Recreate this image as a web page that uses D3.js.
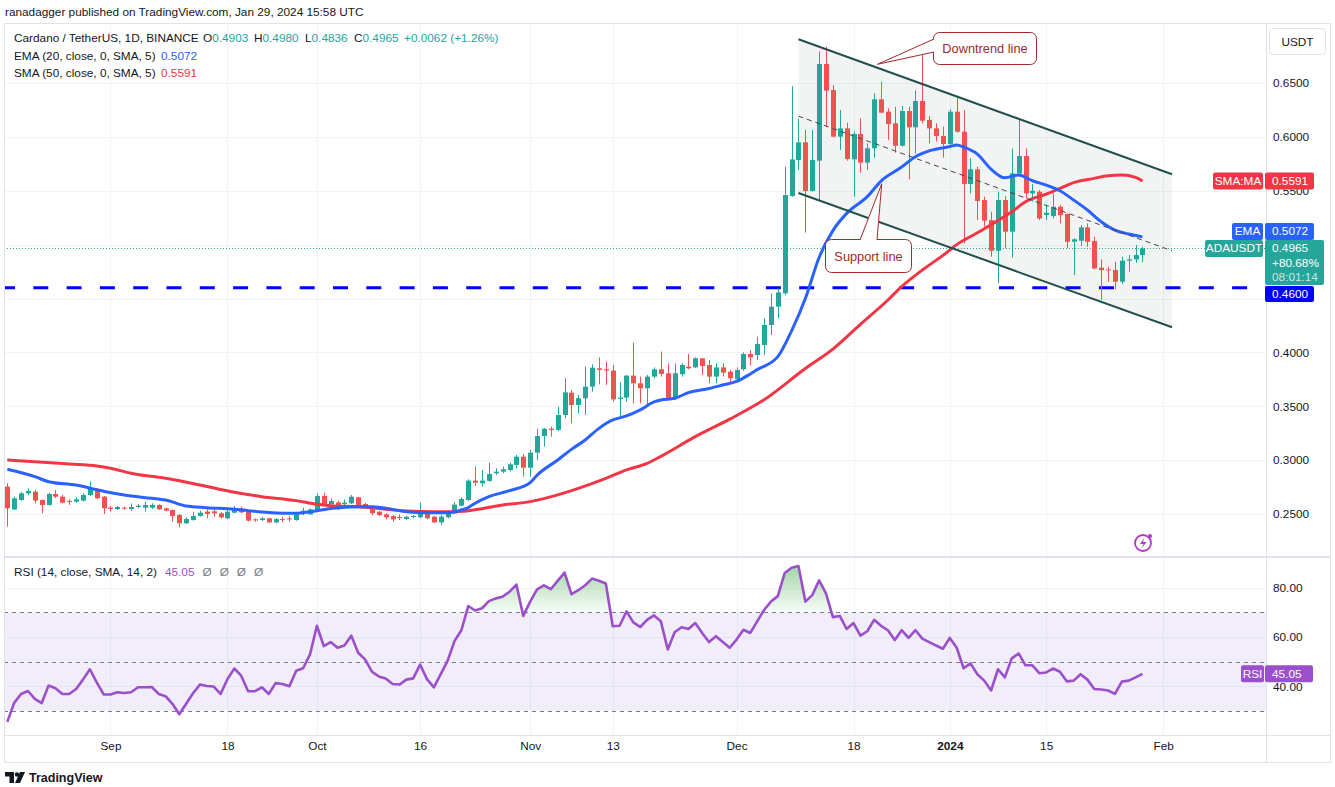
<!DOCTYPE html>
<html>
<head>
<meta charset="utf-8">
<script src="https://cdn.jsdelivr.net/npm/d3@7"></script>
<style>
  body { margin: 0; background: #fff; }
  svg { display: block; font-family: "Liberation Sans", Arial, sans-serif; }
</style>
</head>
<body>
<svg id="chart" width="1335" height="787"></svg>
<script>
// daily candles, ADA/USDT, first candle is 17 Aug 2023
const firstDay = new Date(Date.UTC(2023, 7, 17));

const open = [
  0.2754,0.2543,0.2630,0.2692,0.2707,0.2630,0.2584,0.2686,0.2661,0.2621,
  0.2615,0.2624,0.2676,0.2729,0.2661,0.2559,0.2546,0.2559,0.2546,0.2565,
  0.2559,0.2559,0.2584,0.2553,0.2537,0.2491,0.2414,0.2444,0.2482,0.2522,
  0.2525,0.2506,0.2460,0.2512,0.2552,0.2521,0.2450,0.2444,0.2460,0.2422,
  0.2453,0.2460,0.2444,0.2512,0.2497,0.2537,0.2667,0.2590,0.2608,0.2593,
  0.2599,0.2655,0.2593,0.2568,0.2521,0.2497,0.2481,0.2472,0.2453,0.2472,
  0.2469,0.2521,0.2475,0.2422,0.2469,0.2506,0.2577,0.2630,0.2810,0.2785,
  0.2807,0.2878,0.2893,0.2908,0.2955,0.3032,0.2930,0.3069,0.3224,0.3292,
  0.3280,0.3419,0.3626,0.3512,0.3574,0.3682,0.3852,0.3843,0.3831,0.3568,
  0.3580,0.3784,0.3713,0.3667,0.3775,0.3843,0.3806,0.3574,0.3797,0.3868,
  0.3861,0.3945,0.3883,0.3775,0.3861,0.3821,0.3750,0.3843,0.3985,0.3975,
  0.4068,0.4254,0.4424,0.4548,0.5451,0.5785,0.5949,0.5498,0.5779,0.6676,
  0.6435,0.6002,0.6079,0.5792,0.6027,0.5761,0.5894,0.6348,0.6234,0.6126,
  0.5918,0.6240,0.6089,0.6333,0.6157,0.6079,0.6008,0.5934,0.6234,0.6048,
  0.5563,0.5699,0.5414,0.5228,0.4943,0.5414,0.5120,0.5661,0.5822,0.5476,
  0.5491,0.5275,0.5265,0.5352,0.5284,0.5027,0.5036,0.5160,0.5033,0.4786,
  0.4770,0.4764,0.4656,0.4851,0.4863,0.4903
];
const high = [
  0.2785,0.2661,0.2707,0.2738,0.2723,0.2636,0.2698,0.2723,0.2676,0.2636,
  0.2655,0.2692,0.2800,0.2738,0.2667,0.2574,0.2574,0.2568,0.2599,0.2593,
  0.2615,0.2599,0.2590,0.2559,0.2543,0.2500,0.2469,0.2522,0.2531,0.2543,
  0.2543,0.2518,0.2537,0.2574,0.2568,0.2537,0.2460,0.2469,0.2466,0.2463,
  0.2475,0.2481,0.2506,0.2559,0.2552,0.2692,0.2698,0.2645,0.2624,0.2636,
  0.2676,0.2661,0.2605,0.2577,0.2528,0.2506,0.2490,0.2497,0.2481,0.2490,
  0.2605,0.2531,0.2481,0.2490,0.2537,0.2610,0.2655,0.2822,0.2940,0.2908,
  0.2977,0.2924,0.2939,0.2977,0.3048,0.3057,0.3094,0.3292,0.3298,0.3311,
  0.3496,0.3759,0.3651,0.3605,0.3868,0.3889,0.3954,0.3914,0.3883,0.3722,
  0.3790,0.4090,0.3775,0.3790,0.3861,0.4007,0.3899,0.3899,0.3899,0.3985,
  0.3954,0.3948,0.3929,0.3899,0.3899,0.3837,0.3861,0.4000,0.4022,0.4145,
  0.4316,0.4548,0.4594,0.5723,0.6470,0.6170,0.6064,0.6064,0.6791,0.6837,
  0.6481,0.6249,0.6132,0.6048,0.6172,0.5940,0.6404,0.6512,0.6265,0.6280,
  0.6287,0.6280,0.6429,0.6760,0.6194,0.6126,0.6095,0.6256,0.6364,0.6249,
  0.5801,0.5723,0.5445,0.5305,0.5491,0.5451,0.5893,0.6156,0.5893,0.5562,
  0.5507,0.5367,0.5476,0.5367,0.5290,0.5058,0.5182,0.5197,0.5073,0.4863,
  0.4795,0.4841,0.4888,0.4903,0.4996,0.4980
];
const low = [
  0.2383,0.2537,0.2624,0.2676,0.2599,0.2506,0.2578,0.2646,0.2599,0.2584,
  0.2605,0.2615,0.2667,0.2636,0.2500,0.2522,0.2537,0.2537,0.2528,0.2553,
  0.2522,0.2546,0.2537,0.2525,0.2429,0.2377,0.2407,0.2438,0.2475,0.2460,
  0.2475,0.2457,0.2451,0.2506,0.2506,0.2432,0.2429,0.2435,0.2419,0.2413,
  0.2426,0.2429,0.2438,0.2490,0.2490,0.2531,0.2574,0.2568,0.2537,0.2574,
  0.2593,0.2577,0.2562,0.2490,0.2481,0.2450,0.2429,0.2444,0.2447,0.2460,
  0.2460,0.2450,0.2416,0.2398,0.2460,0.2500,0.2570,0.2620,0.2760,0.2754,
  0.2800,0.2862,0.2878,0.2893,0.2924,0.2847,0.2847,0.3001,0.3125,0.3218,
  0.3271,0.3388,0.3342,0.3435,0.3419,0.3636,0.3704,0.3698,0.3543,0.3404,
  0.3543,0.3527,0.3527,0.3521,0.3759,0.3775,0.3558,0.3558,0.3775,0.3843,
  0.3855,0.3790,0.3713,0.3713,0.3775,0.3713,0.3744,0.3830,0.3882,0.3929,
  0.3975,0.4161,0.4316,0.4532,0.5445,0.5692,0.5111,0.5491,0.5414,0.6095,
  0.5996,0.5878,0.5779,0.5445,0.5668,0.5693,0.5807,0.6219,0.5971,0.5853,
  0.5909,0.5606,0.5847,0.6126,0.5940,0.5956,0.5807,0.5925,0.6039,0.5012,
  0.5476,0.5228,0.5167,0.4888,0.4640,0.4965,0.4881,0.5630,0.5429,0.5398,
  0.5228,0.5228,0.5243,0.5197,0.4965,0.4717,0.4987,0.4980,0.4770,0.4485,
  0.4656,0.4585,0.4634,0.4748,0.4832,0.4836
];
const close = [
  0.2553,0.2646,0.2692,0.2714,0.2624,0.2584,0.2686,0.2661,0.2605,0.2612,
  0.2636,0.2676,0.2738,0.2646,0.2553,0.2546,0.2565,0.2550,0.2565,0.2577,
  0.2584,0.2584,0.2543,0.2531,0.2482,0.2414,0.2454,0.2482,0.2512,0.2500,
  0.2506,0.2469,0.2522,0.2553,0.2515,0.2438,0.2441,0.2460,0.2422,0.2453,
  0.2444,0.2450,0.2497,0.2531,0.2543,0.2667,0.2583,0.2621,0.2552,0.2605,
  0.2661,0.2583,0.2568,0.2506,0.2490,0.2469,0.2450,0.2463,0.2475,0.2481,
  0.2521,0.2460,0.2422,0.2475,0.2521,0.2587,0.2639,0.2810,0.2791,0.2810,
  0.2871,0.2893,0.2915,0.2961,0.3032,0.2930,0.3069,0.3224,0.3292,0.3280,
  0.3419,0.3629,0.3512,0.3574,0.3682,0.3858,0.3837,0.3831,0.3564,0.3580,
  0.3784,0.3713,0.3667,0.3775,0.3843,0.3800,0.3558,0.3806,0.3883,0.3852,
  0.3945,0.3874,0.3775,0.3861,0.3812,0.3760,0.3837,0.3985,0.3954,0.4077,
  0.4254,0.4424,0.4557,0.5460,0.5791,0.5949,0.5498,0.5785,0.6676,0.6429,
  0.6002,0.6079,0.5795,0.6027,0.5761,0.5894,0.6348,0.6225,0.6120,0.5918,
  0.6240,0.6089,0.6333,0.6150,0.6079,0.6008,0.5934,0.6234,0.6048,0.5563,
  0.5699,0.5405,0.5222,0.4943,0.5414,0.5120,0.5661,0.5822,0.5476,0.5500,
  0.5243,0.5296,0.5352,0.5274,0.5027,0.5049,0.5160,0.5027,0.4779,0.4764,
  0.4764,0.4656,0.4851,0.4863,0.4903,0.4965
];

// RSI(14) per candle
const rsi = [
  25.6,33.3,36.9,38.1,34.9,33.2,40.3,39.2,36.9,36.9,
  38.9,42.7,46.9,41.6,36.7,36.7,37.6,37.3,37.6,39.6,
  39.6,39.7,36.9,36.0,32.9,28.7,32.9,37.2,40.7,40.1,
  39.9,36.9,42.9,47.2,44.3,38.0,38.0,39.6,36.9,41.3,
  40.9,40.0,46.3,47.3,52.9,64.5,56.3,57.9,55.6,56.5,
  60.5,53.6,50.9,45.9,44.0,43.2,40.9,40.7,42.7,43.2,
  48.8,42.9,39.6,44.9,50.3,58.3,62.7,72.5,70.7,71.6,
  74.5,75.6,76.3,78.3,81.2,68.5,74.3,79.2,80.9,79.3,
  82.7,86.0,77.3,78.9,80.9,83.6,82.7,81.6,64.3,64.5,
  70.3,65.9,64.0,66.9,68.7,66.3,54.9,61.9,63.9,63.2,
  65.6,61.6,57.9,60.3,57.9,55.6,58.9,62.9,61.6,66.3,
  70.9,74.3,76.5,85.9,88.0,88.7,74.3,76.9,82.9,77.6,
  68.0,68.5,63.2,65.6,60.5,62.3,66.9,64.5,62.7,58.7,
  62.7,59.6,62.7,59.3,57.9,56.5,55.2,59.6,55.6,47.3,
  49.3,44.9,42.3,38.3,46.9,43.6,51.3,53.3,48.5,48.5,
  45.3,45.6,47.2,45.9,42.0,42.3,44.9,42.7,38.9,38.7,
  38.3,36.9,41.9,42.3,43.6,45.05
];

// moving averages: [candle index, value]
const ema20 = [
  [0,0.2915],[4,0.2847],[6,0.2800],[10,0.2769],[13,0.2726],[17,0.2676],[21,0.2646],
  [23,0.2630],[26,0.2574],[29,0.2559],[33,0.2543],[35,0.2531],[38,0.2515],[42,0.2506],
  [44,0.2521],[47,0.2552],[51,0.2568],[53,0.2568],[56,0.2543],[58,0.2521],[61,0.2512],
  [64,0.2512],[66,0.2537],[67,0.2560],[68,0.2600],[70,0.2661],[73,0.2717],[76,0.2791],
  [77,0.2860],[80,0.3001],[82,0.3100],[84,0.3187],[86,0.3295],[88,0.3373],[90,0.3410],
  [92,0.3466],[94,0.3540],[95,0.3558],[97,0.3574],[99,0.3626],[102,0.3665],[104,0.3697],
  [106,0.3730],[108,0.3800],[109,0.3840],[112,0.3960],[114,0.4200],[116,0.4500],
  [118,0.4880],[120,0.5130],[122,0.5290],[125,0.5445],[127,0.5590],[130,0.5720],
  [132,0.5816],[134,0.5870],[137,0.5910],[138,0.5925],[139,0.5905],[141,0.5840],
  [143,0.5700],[145,0.5620],[147,0.5646],[149,0.5593],[151,0.5553],[153,0.5500],
  [155,0.5414],[157,0.5321],[159,0.5213],[161,0.5135],[163,0.5098],[165,0.5072]
];
const sma50 = [
  [0,0.3001],[4,0.2986],[9,0.2964],[13,0.2946],[15,0.2925],[18,0.2878],[23,0.2831],
  [28,0.2769],[33,0.2701],[37,0.2661],[42,0.2624],[45,0.2590],[47,0.2577],[51,0.2568],
  [54,0.2552],[58,0.2528],[62,0.2521],[65,0.2521],[67,0.2530],[72,0.2584],[76,0.2615],
  [80,0.2677],[83,0.2738],[87,0.2831],[90,0.2909],[93,0.2970],[95,0.3035],[100,0.3218],
  [105,0.3380],[110,0.3560],[116,0.3850],[120,0.4030],[124,0.4260],[128,0.4486],
  [130,0.4610],[133,0.4764],[136,0.4900],[138,0.5000],[141,0.5110],[143,0.5185],
  [146,0.5305],[148,0.5398],[151,0.5469],[153,0.5522],[155,0.5575],[158,0.5615],
  [160,0.5640],[162,0.5646],[164,0.5624],[165,0.5591]
];

// drawn objects: [candle index, price]
const channelTop = [[115, 0.6906], [169.3, 0.5653]];
const channelBottom = [[115, 0.5479], [169.3, 0.4233]];
const supportLevel = 0.46;
const downtrendTip = [126.5, 0.6674];
const supportTip = [127.1, 0.5564];

const tickDates = ["2023-09-01","2023-09-18","2023-10-01","2023-10-16","2023-11-01","2023-11-13",
                   "2023-12-01","2023-12-18","2024-01-01","2024-01-15","2024-02-01"];
const tickLabels = ["Sep","18","Oct","16","Nov","13","Dec","18","2024","15","Feb"];
const priceTicks = [0.25,0.30,0.35,0.40,0.45,0.50,0.55,0.60,0.65];
const priceLabelTicks = [0.25,0.30,0.35,0.40,0.55,0.60,0.65]; // 0.45 / 0.50 sit under the tags
const rsiTicks = [40,60,80];
const rsiLevels = [70,50,30];

const UP = "#26a69a", DOWN = "#ef5350", EMA_C = "#2962ff", SMA_C = "#f23645", RSI_C = "#9c4fca";
const TXT = "#131722", GRID = "#f0f3fa", BORDER = "#e0e3eb";
const FS = 11.8;

const svg = d3.select("#chart");
const W = 1335, H = 787;
const paneL = 4, axisX = 1266;
const priceTop = 24, priceBot = 556, rsiTop = 558, rsiBot = 735;

svg.append("rect").attr("width", W).attr("height", H).attr("fill", "#fff");

const x = d3.scaleUtc()
  .domain([firstDay, new Date(Date.UTC(2024, 1, 1))])
  .range([7.3, 1163.1]);
const xi = i => x(new Date(firstDay.getTime() + i * 864e5));
const y = d3.scaleLinear().domain([0.25, 0.65]).range([514, 83]);
const yR = d3.scaleLinear().domain([30, 80]).range([711, 587.5]);

const defs = svg.append("defs");
defs.append("clipPath").attr("id", "pricePane").append("rect")
  .attr("x", paneL).attr("y", priceTop).attr("width", axisX - paneL).attr("height", priceBot - priceTop);
defs.append("clipPath").attr("id", "rsiPane").append("rect")
  .attr("x", paneL).attr("y", rsiTop).attr("width", axisX - paneL).attr("height", rsiBot - rsiTop);
defs.append("clipPath").attr("id", "obClip").append("rect")
  .attr("x", paneL).attr("y", rsiTop).attr("width", axisX - paneL).attr("height", yR(70) - rsiTop);
const grad = defs.append("linearGradient").attr("id", "obGrad")
  .attr("gradientUnits", "userSpaceOnUse").attr("x1", 0).attr("x2", 0)
  .attr("y1", yR(90)).attr("y2", yR(70));
grad.append("stop").attr("offset", 0).attr("stop-color", "#4caf50").attr("stop-opacity", 0.55);
grad.append("stop").attr("offset", 1).attr("stop-color", "#4caf50").attr("stop-opacity", 0.04);

// header
svg.append("text").attr("x", 5).attr("y", 16).attr("font-size", FS).attr("fill", TXT)
  .text("ranadagger published on TradingView.com, Jan 29, 2024 15:58 UTC");

// grid
const grid = svg.append("g");
tickDates.forEach(d => {
  const gx = Math.round(x(new Date(d + "T00:00:00Z"))) + 0.5;
  grid.append("line").attr("x1", gx).attr("x2", gx).attr("y1", priceTop).attr("y2", rsiBot)
    .attr("stroke", GRID);
});
priceTicks.forEach(p => {
  grid.append("line").attr("x1", paneL).attr("x2", axisX).attr("y1", Math.round(y(p)) + 0.5)
    .attr("y2", Math.round(y(p)) + 0.5).attr("stroke", GRID);
});
rsiTicks.forEach(v => {
  grid.append("line").attr("x1", paneL).attr("x2", axisX).attr("y1", Math.round(yR(v)) + 0.5)
    .attr("y2", Math.round(yR(v)) + 0.5).attr("stroke", GRID);
});

// ---- price pane ----
const pp = svg.append("g").attr("clip-path", "url(#pricePane)");

// channel fill
const chanPoly = [channelTop[0], channelTop[1], channelBottom[1], channelBottom[0]]
  .map(d => [xi(d[0]), y(d[1])]);
pp.append("polygon").attr("points", chanPoly.map(d => d.join(",")).join(" "))
  .attr("fill", "rgba(42,46,57,0.06)");

// support level
pp.append("line").attr("x1", 0).attr("x2", axisX)
  .attr("y1", y(supportLevel)).attr("y2", y(supportLevel))
  .attr("stroke", "#0000ff").attr("stroke-width", 3).attr("stroke-dasharray", "15,18.3");

// last price line
const lastClose = close[close.length - 1];
pp.append("line").attr("x1", paneL).attr("x2", axisX)
  .attr("y1", Math.round(y(lastClose)) + 0.5).attr("y2", Math.round(y(lastClose)) + 0.5)
  .attr("stroke", UP).attr("stroke-dasharray", "1,2");

// candles
const candles = pp.append("g").selectAll("g").data(open).join("g")
  .attr("fill", (d, i) => close[i] >= open[i] ? UP : DOWN)
  .attr("stroke", (d, i) => close[i] >= open[i] ? UP : DOWN);
candles.append("line")
  .attr("x1", (d, i) => Math.round(xi(i)) + 0.5).attr("x2", (d, i) => Math.round(xi(i)) + 0.5)
  .attr("y1", (d, i) => y(high[i])).attr("y2", (d, i) => y(low[i]));
candles.append("rect")
  .attr("stroke", "none")
  .attr("x", (d, i) => Math.round(xi(i)) - 2)
  .attr("width", 5)
  .attr("y", (d, i) => y(Math.max(open[i], close[i])))
  .attr("height", (d, i) => Math.max(1, Math.abs(y(open[i]) - y(close[i]))));

// moving averages
const maLine = d3.line().x(d => xi(d[0])).y(d => y(d[1])).curve(d3.curveMonotoneX);
pp.append("path").attr("d", maLine(sma50)).attr("fill", "none")
  .attr("stroke", SMA_C).attr("stroke-width", 3).attr("stroke-linejoin", "round");
pp.append("path").attr("d", maLine(ema20)).attr("fill", "none")
  .attr("stroke", EMA_C).attr("stroke-width", 3).attr("stroke-linejoin", "round");

// channel lines
const CH = "#22504d";
[channelTop, channelBottom].forEach(c => {
  pp.append("line").attr("x1", xi(c[0][0])).attr("y1", y(c[0][1]))
    .attr("x2", xi(c[1][0])).attr("y2", y(c[1][1]))
    .attr("stroke", CH).attr("stroke-width", 2);
});
pp.append("line")
  .attr("x1", xi(channelTop[0][0])).attr("y1", y((channelTop[0][1] + channelBottom[0][1]) / 2))
  .attr("x2", xi(channelTop[1][0])).attr("y2", y((channelTop[1][1] + channelBottom[1][1]) / 2))
  .attr("stroke", "#444").attr("stroke-width", 1).attr("stroke-dasharray", "5,4");

// callouts
const CALL = "#9e2a2b";
function callout(tip, box, base, label) {
  const [tx, ty] = [xi(tip[0]), y(tip[1])];
  const g = pp.append("g");
  g.append("rect").attr("x", box.x).attr("y", box.y).attr("width", box.w).attr("height", box.h)
    .attr("rx", 6).attr("fill", "#fff").attr("stroke", CALL);
  g.append("path").attr("d", `M${base[0][0]},${base[0][1]}L${tx},${ty}L${base[1][0]},${base[1][1]}`)
    .attr("fill", "#fff").attr("stroke", CALL);
  g.append("text").attr("x", box.x + box.w / 2).attr("y", box.y + box.h / 2 + 4.5)
    .attr("text-anchor", "middle").attr("font-size", 12.8).attr("fill", CALL).text(label);
}
callout(downtrendTip, {x: 933.5, y: 32.5, w: 103, h: 32}, [[934, 39], [934, 52]], "Downtrend line");
callout(supportTip, {x: 825.5, y: 239.5, w: 86, h: 33}, [[860, 240], [877, 240]], "Support line");

// little idea icon
const ic = svg.append("g").attr("transform", "translate(1143,543)");
ic.append("circle").attr("r", 8).attr("fill", "none").attr("stroke", "#b03ac8").attr("stroke-width", 1.8);
ic.append("path").attr("d", "M1.5,-5.5L-3,1H0.5L-1.5,5.5L3.5,-1H0Z").attr("fill", "#b03ac8");
ic.append("circle").attr("cx", 7).attr("cy", -7).attr("r", 2).attr("fill", "#b03ac8");

// legend
const lg = svg.append("g").attr("font-size", FS).attr("fill", TXT);
lg.append("text").attr("x", 14).attr("y", 42).text("Cardano / TetherUS, 1D, BINANCE");
const ohlc = [["O", open], ["H", high], ["L", low], ["C", close]];
const ohlcX = [203, 254, 305, 354];
ohlc.forEach(([k, arr], j) => {
  const t = lg.append("text").attr("x", ohlcX[j]).attr("y", 42);
  t.append("tspan").text(k);
  t.append("tspan").attr("fill", UP).text(arr[arr.length - 1].toFixed(4));
});
const chg = lastClose - close[close.length - 2];
lg.append("text").attr("x", 404).attr("y", 42).attr("fill", UP)
  .text(`+${chg.toFixed(4)} (+${(chg / close[close.length - 2] * 100).toFixed(2)}%)`);
lg.append("text").attr("x", 14).attr("y", 60).text("EMA (20, close, 0, SMA, 5)");
lg.append("text").attr("x", 161).attr("y", 60).attr("fill", EMA_C).text(ema20[ema20.length - 1][1].toFixed(4));
lg.append("text").attr("x", 14).attr("y", 77).text("SMA (50, close, 0, SMA, 5)");
lg.append("text").attr("x", 161).attr("y", 77).attr("fill", SMA_C).text(sma50[sma50.length - 1][1].toFixed(4));

// ---- RSI pane ----
const rp = svg.append("g").attr("clip-path", "url(#rsiPane)");
rp.append("rect").attr("x", paneL).attr("width", axisX - paneL)
  .attr("y", yR(70)).attr("height", yR(30) - yR(70)).attr("fill", "rgba(126,87,194,0.1)");
rsiLevels.forEach(v => {
  rp.append("line").attr("x1", paneL).attr("x2", axisX)
    .attr("y1", Math.round(yR(v)) + 0.5).attr("y2", Math.round(yR(v)) + 0.5)
    .attr("stroke", "#787b86").attr("stroke-dasharray", "4,4");
});
rp.append("path")
  .attr("d", d3.area().x((d, i) => xi(i)).y0(yR(70)).y1(d => yR(d))(rsi))
  .attr("fill", "url(#obGrad)").attr("clip-path", "url(#obClip)");
rp.append("path")
  .attr("d", d3.line().x((d, i) => xi(i)).y(d => yR(d))(rsi))
  .attr("fill", "none").attr("stroke", RSI_C).attr("stroke-width", 2.6).attr("stroke-linejoin", "round");

const rt = svg.append("text").attr("x", 14).attr("y", 576).attr("font-size", FS).attr("fill", TXT);
rt.append("tspan").text("RSI (14, close, SMA, 14, 2)");
rt.append("tspan").attr("dx", 8).attr("fill", RSI_C).text(rsi[rsi.length - 1].toFixed(2));
["Ø", "Ø", "Ø", "Ø"].forEach(s => rt.append("tspan").attr("dx", 8).attr("fill", "#787b86").text(s));

// frame and separators
const fr = svg.append("g").attr("stroke", BORDER).attr("fill", "none");
fr.append("rect").attr("x", 4.5).attr("y", 23.5).attr("width", 1326).attr("height", 739);
fr.append("line").attr("x1", 4).attr("x2", 1331).attr("y1", 557).attr("y2", 557).attr("stroke-width", 2);
fr.append("line").attr("x1", 4).attr("x2", 1331).attr("y1", rsiBot + 0.5).attr("y2", rsiBot + 0.5);
fr.append("line").attr("x1", axisX + 0.5).attr("x2", axisX + 0.5).attr("y1", 24).attr("y2", 762);

// price axis
const yAxis = svg.append("g").attr("transform", `translate(${axisX},0)`)
  .call(d3.axisRight(y).tickValues(priceLabelTicks).tickFormat(d3.format(".4f")).tickSize(0).tickPadding(7));
yAxis.select(".domain").remove();
yAxis.selectAll("text").attr("font-size", FS).attr("fill", TXT).attr("font-family", "Liberation Sans, Arial, sans-serif");

const rAxis = svg.append("g").attr("transform", `translate(${axisX},0)`)
  .call(d3.axisRight(yR).tickValues(rsiTicks).tickFormat(d3.format(".2f")).tickSize(0).tickPadding(7));
rAxis.select(".domain").remove();
rAxis.selectAll("text").attr("font-size", FS).attr("fill", TXT).attr("font-family", "Liberation Sans, Arial, sans-serif");

// time axis
const xAxis = svg.append("g").attr("transform", `translate(0,${rsiBot})`)
  .call(d3.axisBottom(x).tickValues(tickDates.map(d => new Date(d + "T00:00:00Z")))
    .tickFormat((d, i) => tickLabels[i]).tickSize(0).tickPadding(7));
xAxis.select(".domain").remove();
xAxis.selectAll("text").attr("font-size", FS).attr("fill", TXT)
  .attr("font-family", "Liberation Sans, Arial, sans-serif")
  .attr("font-weight", (d, i) => tickLabels[i] === "2024" ? "bold" : null);

// currency button
svg.append("rect").attr("x", 1269.5).attr("y", 28.5).attr("width", 56).attr("height", 26).attr("rx", 4)
  .attr("fill", "#fff").attr("stroke", BORDER);
svg.append("text").attr("x", 1297.5).attr("y", 46).attr("text-anchor", "middle")
  .attr("font-size", FS).attr("fill", TXT).text("USDT");

// axis tags
function tag(xl, yt, w, h, color, lines, anchor) {
  svg.append("rect").attr("x", xl).attr("y", yt).attr("width", w).attr("height", h).attr("rx", 2).attr("fill", color);
  lines.forEach((ln, k) => {
    svg.append("text").attr("x", anchor === "middle" ? xl + w / 2 : xl + 7)
      .attr("y", yt + 12.5 + k * 14.5).attr("text-anchor", anchor).attr("font-size", FS)
      .attr("fill", ln.c || "#fff").text(ln.t);
  });
}
const smaLast = sma50[sma50.length - 1][1], emaLast = ema20[ema20.length - 1][1];
const lastY = y(lastClose);
const adaTop = lastY - 8.5;
tag(1213, y(smaLast) - 8.5, 50, 17, SMA_C, [{t: "SMA:MA"}], "middle");
tag(axisX - 1, y(smaLast) - 8.5, 49, 17, SMA_C, [{t: smaLast.toFixed(4)}], "start");
tag(1232, adaTop - 17, 31, 17, EMA_C, [{t: "EMA"}], "middle");
tag(axisX - 1, adaTop - 17, 49, 17, EMA_C, [{t: emaLast.toFixed(4)}], "start");
tag(1205, adaTop, 58, 17, UP, [{t: "ADAUSDT"}], "middle");
tag(axisX - 1, adaTop, 59, 45, UP,
  [{t: lastClose.toFixed(4)}, {t: "+80.68%"}, {t: "08:01:14", c: "rgba(255,255,255,0.75)"}], "start");
tag(axisX - 1, adaTop + 46, 49, 16, "#0000ff", [{t: supportLevel.toFixed(4)}], "start");
const rsiLast = rsi[rsi.length - 1];
tag(1241, yR(rsiLast) - 8.5, 23, 17, RSI_C, [{t: "RSI"}], "middle");
tag(axisX - 1, yR(rsiLast) - 8.5, 48, 17, RSI_C, [{t: rsiLast.toFixed(2)}], "start");

// TradingView mark
const lg2 = svg.append("g").attr("fill", TXT);
lg2.append("path").attr("d", "M5,772h9v11h-4.5v-6.5H5Z");
lg2.append("circle").attr("cx", 17).attr("cy", 774.5).attr("r", 2.2);
lg2.append("path").attr("d", "M20,772h5l-5,11h-5Z");
lg2.append("text").attr("x", 29).attr("y", 782).attr("font-size", 12.5).attr("font-weight", "bold")
  .text("TradingView");
</script>
</body>
</html>
